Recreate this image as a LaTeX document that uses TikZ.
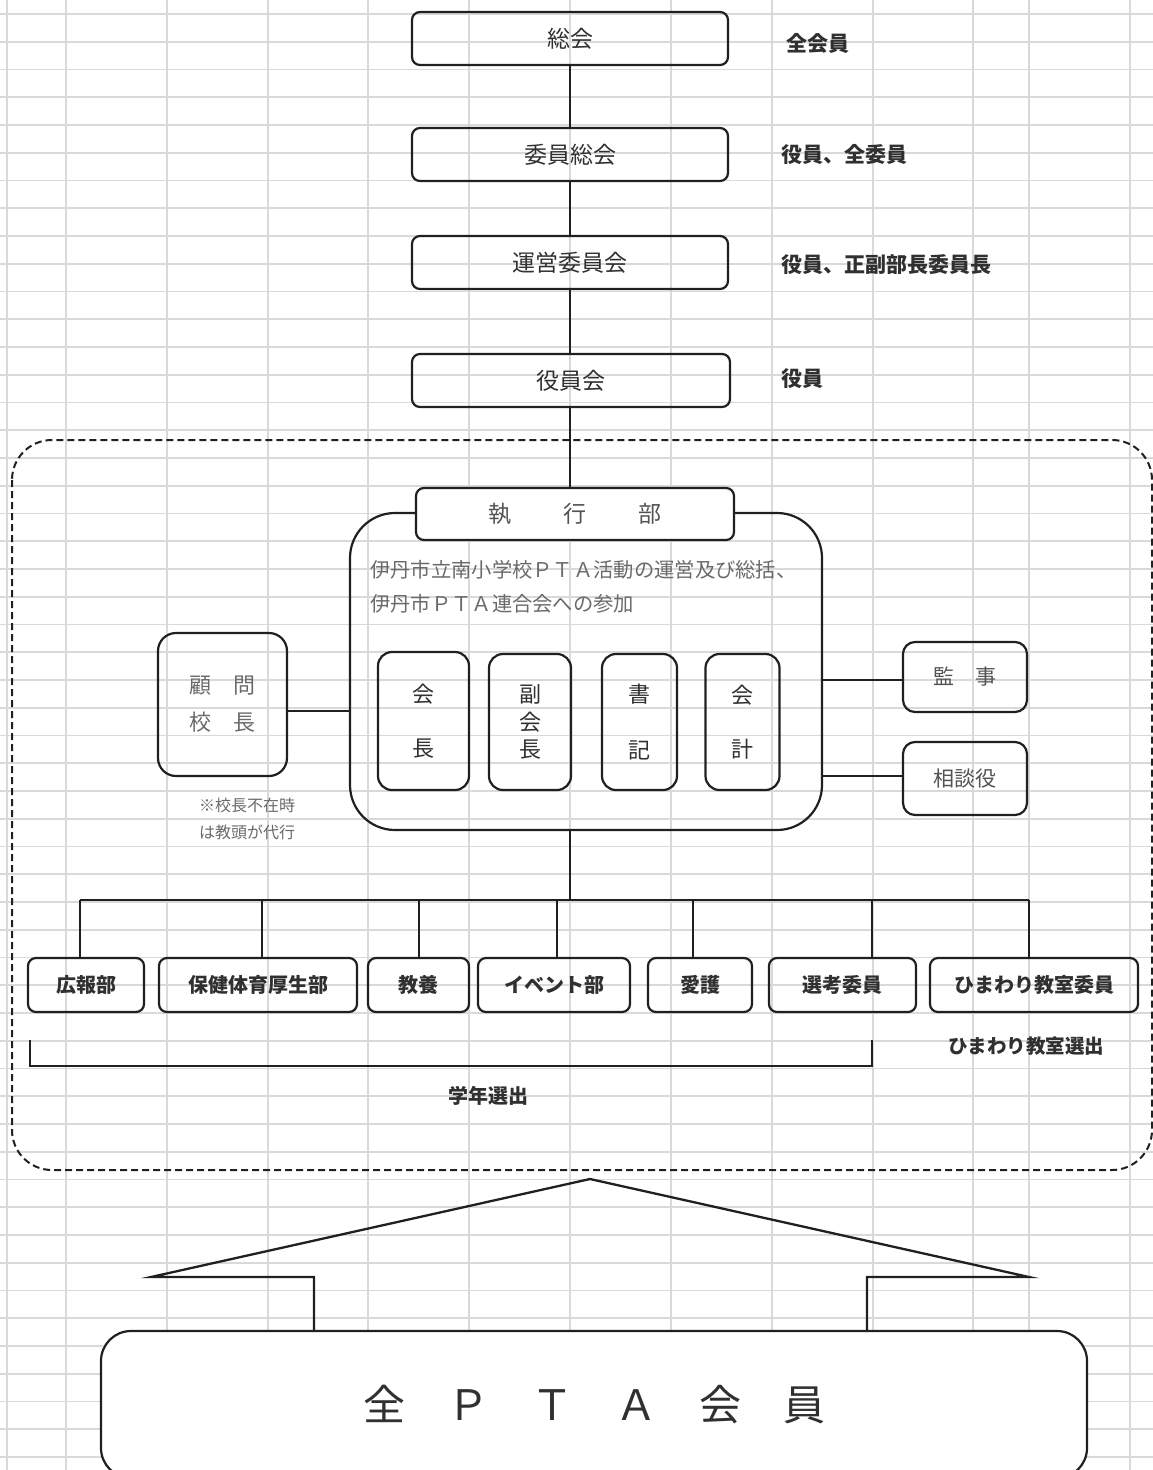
\documentclass[tikz,border=0pt]{standalone}
\usepackage{fontspec}
\setmainfont{Noto Sans CJK JP}
\newcommand\myfs[2]{\fontsize{#1pt}{#2pt}\selectfont}
\definecolor{linec}{HTML}{202020}
\definecolor{txtc}{HTML}{303030}
\definecolor{descc}{HTML}{6A6A6A}
\definecolor{gridc}{HTML}{D9D9D9}
\begin{document}
\begin{tikzpicture}[x=1pt,y=-1pt,
  box/.style={draw=linec, line width=2.2pt, rounded corners=8pt, inner sep=0pt, text=txtc},
  lbl/.style={inner sep=0pt, text=txtc, font=\bfseries\myfs{20}{24}},
  conn/.style={draw=linec, line width=2pt},
  gl/.style={draw=gridc, line width=1.6pt}]
\useasboundingbox (0,0) rectangle (1153,1470);
\clip (0,0) rectangle (1153,1470);
\fill[white] (0,0) rectangle (1153,1470);
% grid
\foreach \k in {0,...,52} \draw[gl] (0,{14+27.75*\k}) -- (1153,{14+27.75*\k});
\foreach \x in {7,66,167,268,368,469,570,671,772,873,973,1029,1130} \draw[gl] (\x,0) -- (\x,1470);

% top chain
\node[box, minimum width=316pt, minimum height=53pt, font=\myfs{23}{28}] (soukai) at (570,38.5) {総会};
\node[box, minimum width=316pt, minimum height=53pt, font=\myfs{23}{28}] (iinsoukai) at (570,154.5) {委員総会};
\node[box, minimum width=316pt, minimum height=53pt, font=\myfs{23}{28}] (unei) at (570,262.5) {運営委員会};
\node[box, minimum width=318pt, minimum height=53pt, font=\myfs{23}{28}] (yakuin) at (571,380.5) {役員会};

\node[lbl, anchor=west, font=\bfseries\myfs{21}{25}] (r1) at (786,43) {全会員};
\node[lbl, anchor=west, font=\bfseries\myfs{21}{25}] (r2) at (781,155) {役員、全委員};
\node[lbl, anchor=west, font=\bfseries\myfs{21}{25}] (r3) at (781,265) {役員、正副部長委員長};
\node[lbl, anchor=west, font=\bfseries\myfs{21}{25}] (r4) at (781,379) {役員};

\draw[conn] (soukai.south) -- (iinsoukai.north);
\draw[conn] (iinsoukai.south) -- (unei.north);
\draw[conn] (unei.south) -- (unei.south |- yakuin.north);

% dashed frame
\draw[draw=linec, line width=2pt, dash pattern=on 7pt off 4pt, rounded corners=40pt] (12,440) rectangle (1152,1170);

% executive block
\node[box, rounded corners=45pt, minimum width=472pt, minimum height=317pt] (exec) at (586,671.5) {};
\coordinate (top) at (570,488);
\draw[conn] (top |- yakuin.south) -- (top);
\node[box, fill=white, minimum width=318pt, minimum height=52pt, font=\myfs{23}{28}, text=descc!60!txtc] (shikkou) at (575,514) {執\hspace{52pt}行\hspace{52pt}部};

\node[inner sep=0pt, anchor=west, text=descc, font=\myfs{20.3}{24}] (t1) at (370,570) {伊丹市立南小学校ＰＴＡ活動の運営及び総括、};
\node[inner sep=0pt, anchor=west, text=descc, font=\myfs{20.3}{24}] (t2) at (370,604) {伊丹市ＰＴＡ連合会への参加};

\node[box, rounded corners=14pt, minimum width=91pt, minimum height=138pt, align=center, font=\myfs{22}{54}] (kaicho) at (423.5,721) {会\\長};
\node[box, rounded corners=14pt, minimum width=82pt, minimum height=136pt, align=center, font=\myfs{22}{27.5}] (fuku) at (530,722) {副\\会\\長};
\node[box, rounded corners=14pt, minimum width=75pt, minimum height=136pt, align=center, font=\myfs{22}{56}] (shoki) at (639.5,722) {書\\記};
\node[box, rounded corners=14pt, minimum width=74pt, minimum height=136pt, align=center, font=\myfs{22}{54}] (kaikei) at (742.5,722) {会\\計};

% advisor
\node[box, rounded corners=18pt, minimum width=129pt, minimum height=143pt, align=center, font=\myfs{22}{37}, text=descc] (komon) at (222.5,704.5) {顧　問\\校　長};
\draw[conn] ([yshift=-6.5pt]komon.east) -- ([yshift=-6.5pt]komon.east -| exec.west);
\node[inner sep=0pt, align=center, text=descc, font=\myfs{16}{27}] (note) at (247,818.5) {※校長不在時\\は教頭が代行};

% auditors
\node[box, rounded corners=12pt, minimum width=124pt, minimum height=70pt, font=\myfs{21}{26}, text=descc!60!txtc] (kanji) at (965,677) {監　事};
\node[box, rounded corners=12pt, minimum width=124pt, minimum height=73pt, font=\myfs{21}{26}, text=descc!60!txtc] (soudan) at (965,778.5) {相談役};
\draw[conn] ([yshift=-3pt]kanji.west) -- ([yshift=-3pt]kanji.west -| exec.east);
\draw[conn] ([yshift=3pt]soudan.west) -- ([yshift=3pt]soudan.west -| exec.east);

% bottom committees
\begin{scope}[every node/.append style={box, minimum height=54pt, font=\bfseries\myfs{20}{24}}]
\node[minimum width=116pt] (kouhou) at (86,985) {広報部};
\node[minimum width=198pt] (hoken) at (258,985) {保健体育厚生部};
\node[minimum width=101pt] (kyouyou) at (418.5,985) {教養};
\node[minimum width=152pt] (event) at (554,985) {イベント部};
\node[minimum width=104pt] (aigo) at (700,985) {愛護};
\node[minimum width=147pt] (senkou) at (842.5,985) {選考委員};
\node[minimum width=208pt] (himawari) at (1034,985) {ひまわり教室委員};
\end{scope}

\coordinate (bus) at (570,900);
\coordinate (d1) at (80,900);
\coordinate (d2) at (262,900);
\coordinate (d3) at (419,900);
\coordinate (d4) at (557,900);
\coordinate (d5) at (693,900);
\coordinate (d6) at (872,900);
\coordinate (d7) at (1029,900);
\draw[conn] (exec.south -| bus) -- (bus);
\draw[conn] (d1) -- (d7);
\draw[conn] (d1) -- (d1 |- kouhou.north);
\draw[conn] (d2) -- (d2 |- hoken.north);
\draw[conn] (d3) -- (d3 |- kyouyou.north);
\draw[conn] (d4) -- (d4 |- event.north);
\draw[conn] (d5) -- (d5 |- aigo.north);
\draw[conn] (d6) -- (d6 |- senkou.north);
\draw[conn] (d7) -- (d7 |- himawari.north);

% bracket
\coordinate (b1) at (30,1040);
\coordinate (b2) at (872,1040);
\draw[conn] (b1) -- ++(0,26) -| (b2);
\node[lbl] (gakunen) at (488,1096) {学年選出};
\node[lbl, font=\bfseries\myfs{19.5}{23}] (himasen) at (1026,1046) {ひまわり教室選出};

% bottom arrow and all-members box
\node[box, fill=white, rounded corners=30pt, minimum width=986pt, minimum height=147pt, font=\myfs{42}{50}, text=txtc] (zen) at (594,1404.5) {全　Ｐ　Ｔ　Ａ　会　員};
\coordinate (apex) at (590,1179);
\coordinate (lt) at (151,1277);
\coordinate (rt) at (1029,1277);
\coordinate (ls) at (314,1277);
\coordinate (rs) at (867,1277);
\draw[conn, line width=2.3pt, line join=miter] (ls |- zen.north) -- (ls) -- (lt) -- (apex) -- (rt) -- (rs) -- (rs |- zen.north);
\end{tikzpicture}
\end{document}
